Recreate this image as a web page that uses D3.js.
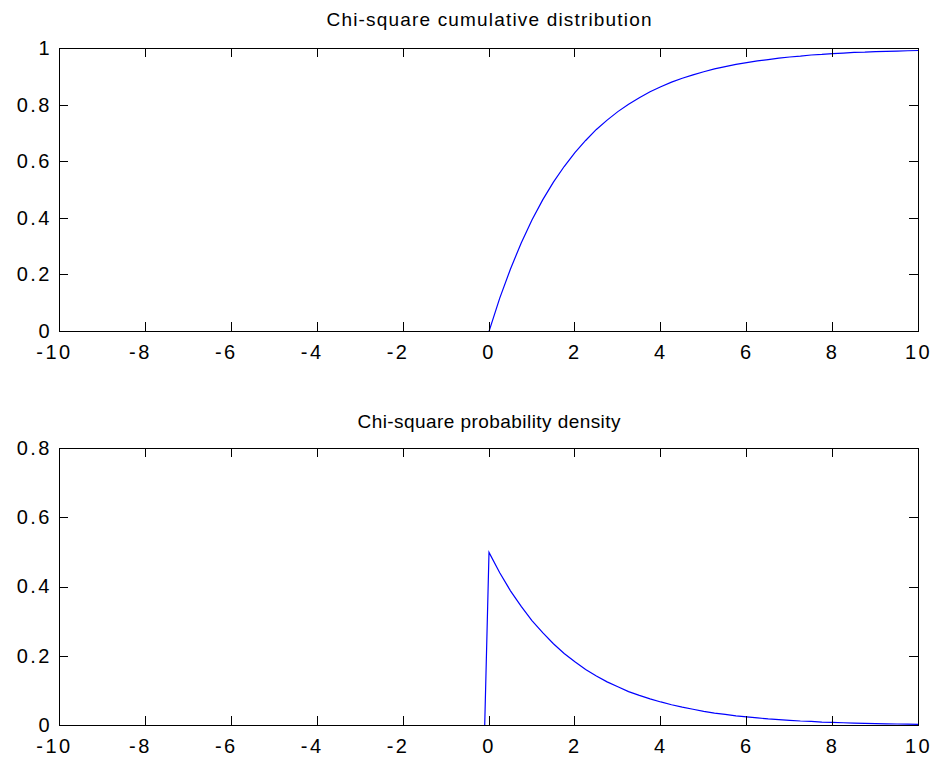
<!DOCTYPE html>
<html>
<head>
<meta charset="utf-8">
<script src="https://cdn.jsdelivr.net/npm/d3@7"></script>
<style>
  html, body { margin: 0; padding: 0; background: #fff; }
  svg { display: block; }
  text { font-family: "Liberation Sans", Arial, sans-serif; fill: #000; }
</style>
</head>
<body>
<script>
// Sample points along x (flat zero segment, then the positive half-axis)
const xValues = [-10, -0.1, 0, 0.25, 0.5, 0.75, 1, 1.25, 1.5, 1.75, 2, 2.25, 2.5, 2.75, 3,
  3.25, 3.5, 3.75, 4, 4.25, 4.5, 4.75, 5, 5.25, 5.5, 5.75, 6, 6.25, 6.5, 6.75, 7,
  7.25, 7.5, 7.75, 8, 8.25, 8.5, 8.75, 9, 9.25, 9.5, 9.75, 10];

// Cumulative distribution values at xValues
const cdfValues = [0, 0, 0, 0.118, 0.221, 0.313, 0.394, 0.465, 0.528, 0.583, 0.632, 0.675,
  0.714, 0.747, 0.777, 0.803, 0.826, 0.847, 0.865, 0.881, 0.895, 0.907, 0.918,
  0.928, 0.936, 0.944, 0.950, 0.956, 0.961, 0.966, 0.970, 0.973, 0.977, 0.979,
  0.982, 0.984, 0.986, 0.987, 0.989, 0.990, 0.991, 0.992, 0.993];

// Probability density values at xValues
const pdfValues = [0, 0, 0.5, 0.441, 0.389, 0.344, 0.303, 0.268, 0.236, 0.208, 0.184,
  0.162, 0.143, 0.126, 0.112, 0.098, 0.087, 0.077, 0.068, 0.060, 0.053, 0.047,
  0.041, 0.036, 0.032, 0.028, 0.025, 0.022, 0.019, 0.017, 0.015, 0.013, 0.012,
  0.010, 0.009, 0.008, 0.007, 0.006, 0.0056, 0.0049, 0.0043, 0.0038, 0.0034];

// Tick labels
const xTicks = [-10, -8, -6, -4, -2, 0, 2, 4, 6, 8, 10];
const cdfYTicks = [0, 0.2, 0.4, 0.6, 0.8, 1];
const pdfYTicks = [0, 0.2, 0.4, 0.6, 0.8];

const titles = ["Chi-square cumulative distribution", "Chi-square probability density"];

const W = 936, H = 760;
const left = 59, right = 918, tick = 9;

const panels = [
  { title: titles[0], values: cdfValues, yTicks: cdfYTicks, yMax: 1,   top: 48,  bottom: 331, titleY: 26,  titleLen: 325 },
  { title: titles[1], values: pdfValues, yTicks: pdfYTicks, yMax: 0.8, top: 448, bottom: 725, titleY: 428, titleLen: 263 }
];

const svg = d3.select("body").append("svg")
  .attr("width", W).attr("height", H);

svg.append("rect").attr("width", W).attr("height", H).attr("fill", "#fff");

const x = d3.scaleLinear().domain([-10, 10]).range([left, right]);
const fmt = d => String(d);

panels.forEach(p => {
  const y = d3.scaleLinear().domain([0, p.yMax]).range([p.bottom, p.top]);
  const g = svg.append("g");

  // data curve
  const line = d3.line().x(d => x(d[0]) + 0.5).y(d => y(d[1]) + 0.5);
  g.append("path")
    .datum(d3.zip(xValues, p.values))
    .attr("d", line)
    .attr("fill", "none")
    .attr("stroke", "#0000ff")
    .attr("stroke-width", 1.2);

  // box with inward ticks on all four sides
  const styleAxis = sel => {
    sel.selectAll("path, line").attr("stroke", "#000").attr("shape-rendering", "crispEdges");
    sel.selectAll("text")
      .style("font-size", "20px")
      .style("letter-spacing", "2.5px")
      .attr("fill", "#000");
  };

  const bottomAxis = g.append("g")
    .attr("transform", `translate(0,${p.bottom})`)
    .call(d3.axisBottom(x).tickValues(xTicks).tickSizeInner(-tick).tickSizeOuter(0)
      .tickPadding(14).tickFormat(fmt))
    .call(styleAxis);
  bottomAxis.selectAll("text").attr("dx", d => d < 0 ? -5 : 0);

  g.append("g")
    .attr("transform", `translate(0,${p.top})`)
    .call(d3.axisTop(x).tickValues(xTicks).tickSizeInner(-tick).tickSizeOuter(0).tickFormat(""))
    .call(styleAxis);

  const leftAxis = g.append("g")
    .attr("transform", `translate(${left},0)`)
    .call(d3.axisLeft(y).tickValues(p.yTicks).tickSizeInner(-tick).tickSizeOuter(0)
      .tickPadding(7).tickFormat(fmt))
    .call(styleAxis);

  g.append("g")
    .attr("transform", `translate(${right},0)`)
    .call(d3.axisRight(y).tickValues(p.yTicks).tickSizeInner(-tick).tickSizeOuter(0).tickFormat(""))
    .call(styleAxis);

  g.selectAll(".domain").attr("stroke-width", 1);

  // title
  g.append("text")
    .attr("x", (left + right) / 2 + 0.5)
    .attr("y", p.titleY)
    .attr("text-anchor", "middle")
    .attr("textLength", p.titleLen)
    .attr("lengthAdjust", "spacing")
    .style("font-size", "19px")
    .text(p.title);
});
</script>
</body>
</html>
